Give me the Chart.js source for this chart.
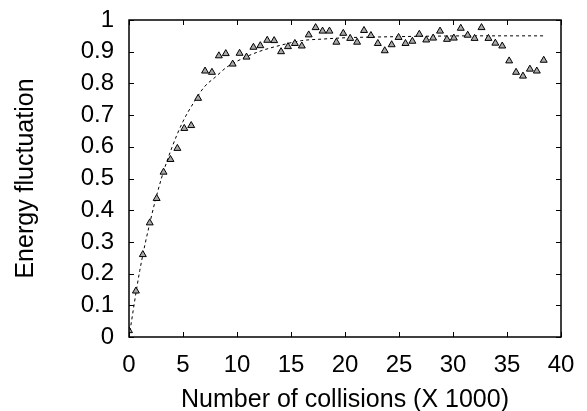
<!DOCTYPE html>
<html>
<head>
<meta charset="utf-8">
<script src="https://cdn.jsdelivr.net/npm/chart.js@4/dist/chart.umd.min.js"></script>
<style>
  html, body { margin: 0; padding: 0; background: #fff; }
  #wrap { width: 587px; height: 411px; }
</style>
</head>
<body>
<div id="wrap"><canvas id="c" width="587" height="411"></canvas></div>
<script>
/* measured energy fluctuation, one sample every ~640 collisions (x in thousands) */
const collisions = [
  0.00, 0.64, 1.28, 1.92, 2.56, 3.20, 3.84, 4.48, 5.12, 5.76,
  6.40, 7.04, 7.68, 8.32, 8.96, 9.60, 10.24, 10.88, 11.52, 12.16,
  12.80, 13.44, 14.08, 14.72, 15.36, 16.00, 16.64, 17.28, 17.92, 18.56,
  19.20, 19.84, 20.48, 21.12, 21.76, 22.40, 23.04, 23.68, 24.32, 24.96,
  25.60, 26.24, 26.88, 27.52, 28.16, 28.80, 29.44, 30.08, 30.72, 31.36,
  32.00, 32.64, 33.28, 33.92, 34.56, 35.20, 35.84, 36.48, 37.12, 37.76,
  38.40
];
const fluctuation = [
  0.020, 0.145, 0.260, 0.360, 0.437, 0.520, 0.560, 0.595, 0.658, 0.667,
  0.753, 0.839, 0.835, 0.887, 0.894, 0.861, 0.895, 0.883, 0.914, 0.919,
  0.936, 0.935, 0.900, 0.916, 0.926, 0.918, 0.953, 0.976, 0.965, 0.965,
  0.930, 0.958, 0.942, 0.930, 0.967, 0.951, 0.926, 0.903, 0.922, 0.945,
  0.926, 0.933, 0.955, 0.937, 0.943, 0.965, 0.939, 0.943, 0.974, 0.952,
  0.942, 0.976, 0.942, 0.927, 0.918, 0.871, 0.835, 0.823, 0.845, 0.839,
  0.873
];
/* dashed fit curve */
const fitX = [0, 1, 2, 3, 4, 5, 6, 7, 8, 9, 10, 12, 14, 16, 18, 20, 24, 28, 32, 36, 38.5];
const fitY = [0, 0.21, 0.37, 0.50, 0.60, 0.68, 0.74, 0.79, 0.82, 0.85, 0.87, 0.90, 0.92, 0.935, 0.94, 0.944, 0.947, 0.949, 0.95, 0.95, 0.95];

const xTicks = [0, 5, 10, 15, 20, 25, 30, 35, 40];
const yTicks = [0, 0.1, 0.2, 0.3, 0.4, 0.5, 0.6, 0.7, 0.8, 0.9, 1];

const FONT = "'Liberation Sans', Arial, sans-serif";

/* closed frame with inward tick marks on all four sides */
const frame = {
  id: "frame",
  afterDraw(chart) {
    const { ctx, chartArea: a, scales: { x, y } } = chart;
    const TL = 5;
    ctx.save();
    ctx.strokeStyle = "#000";
    ctx.lineWidth = 1;
    ctx.beginPath();
    xTicks.forEach(v => {
      const px = Math.round(x.getPixelForValue(v)) + 0.5;
      ctx.moveTo(px, a.bottom); ctx.lineTo(px, a.bottom - TL);
      ctx.moveTo(px, a.top); ctx.lineTo(px, a.top + TL);
    });
    yTicks.forEach(v => {
      const py = Math.round(y.getPixelForValue(v)) + 0.5;
      ctx.moveTo(a.left, py); ctx.lineTo(a.left + TL, py);
      ctx.moveTo(a.right, py); ctx.lineTo(a.right - TL, py);
    });
    ctx.stroke();
    ctx.lineWidth = 1.5;
    ctx.strokeRect(a.left, a.top, a.right - a.left, a.bottom - a.top);
    ctx.restore();
  }
};

new Chart(document.getElementById("c"), {
  type: "scatter",
  data: {
    datasets: [
      {
        label: "fit",
        type: "line",
        data: fitX.map((v, i) => ({ x: v, y: fitY[i] })),
        borderColor: "#000",
        borderWidth: 1,
        borderDash: [3, 3],
        pointRadius: 0,
        cubicInterpolationMode: "monotone",
        fill: false,
        order: 2
      },
      {
        label: "measured",
        data: collisions.map((v, i) => ({ x: v, y: fluctuation[i] })),
        pointStyle: "triangle",
        pointRadius: 4,
        pointBackgroundColor: "#a8a8a8",
        pointBorderColor: "#000",
        pointBorderWidth: 1,
        order: 1
      }
    ]
  },
  options: {
    responsive: false,
    animation: false,
    layout: { padding: { top: 20, right: 26, bottom: 0, left: 0 } },
    plugins: { legend: { display: false }, tooltip: { enabled: false } },
    scales: {
      x: {
        type: "linear", min: 0, max: 40,
        afterBuildTicks: s => { s.ticks = xTicks.map(v => ({ value: v })); },
        afterFit: s => { s.height = 74; s.paddingLeft = 0; s.paddingRight = 0; },
        grid: { display: false, drawTicks: false },
        border: { display: false },
        ticks: { color: "#000", font: { family: FONT, size: 24 }, padding: 14,
                 autoSkip: false, maxRotation: 0 },
        title: { display: true, text: "Number of collisions (X 1000)", color: "#000",
                 font: { family: FONT, size: 25 }, padding: { top: 0, bottom: -4 } }
      },
      y: {
        type: "linear", min: 0, max: 1,
        afterBuildTicks: s => { s.ticks = yTicks.map(v => ({ value: v })); },
        afterFit: s => { s.width = 129; s.paddingTop = 0; s.paddingBottom = 0; },
        grid: { display: false, drawTicks: false },
        border: { display: false },
        ticks: { color: "#000", font: { family: FONT, size: 24 }, padding: 15,
                 autoSkip: false,
                 callback: v => String(Math.round(v * 10) / 10) },
        title: { display: true, text: "Energy fluctuation", color: "#000",
                 font: { family: FONT, size: 25 }, padding: { top: 11, bottom: 0 } }
      }
    }
  },
  plugins: [frame]
});
</script>
</body>
</html>
